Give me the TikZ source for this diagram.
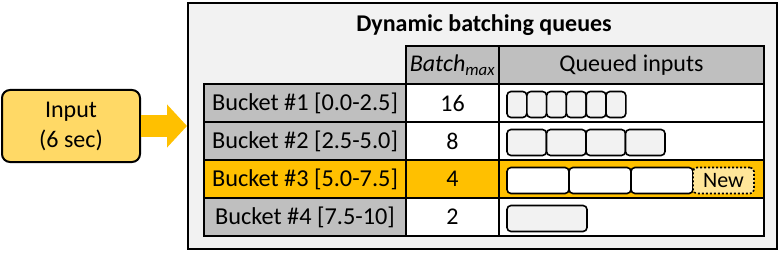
\documentclass[tikz,border=0pt]{standalone}
\usepackage{fontspec}
\setmainfont{Carlito}
\usetikzlibrary{arrows.meta, positioning}
\definecolor{cyellow}{HTML}{FFD966}
\definecolor{corange}{HTML}{FFC000}
\definecolor{cgrey}{HTML}{BFBFBF}
\definecolor{clight}{HTML}{F2F2F2}
\definecolor{cnew}{HTML}{FFE699}
\tikzset{
  every picture/.style={line width=2pt, x=1pt, y=1pt},
  panel/.style={draw=black, fill=clight, minimum width=589pt, minimum height=246pt, inner sep=0pt},
  title/.style={font=\fontsize{24}{28}\selectfont\bfseries},
  cell/.style={draw=black, fill=#1, minimum height=38pt, inner sep=0pt, font=\fontsize{24}{28}\selectfont},
  cell/.default=white,
  label/.style={cell=#1, minimum width=202pt, font=\fontsize{24.3}{28}\selectfont},
  item/.style={draw=black, fill=#1, rounded corners=4pt, minimum height=26pt, inner sep=0pt, outer sep=0pt, line width=1.6pt},
  item/.default=clight,
  newbox/.style={draw=black, fill=cnew, rounded corners=4pt, minimum height=26pt, minimum width=61pt, inner sep=0pt, outer sep=0pt, line width=1.6pt, dash pattern=on 2pt off 2pt, font=\fontsize{22}{24}\selectfont},
  inbox/.style={draw=black, fill=cyellow, rounded corners=8pt, minimum width=138pt, minimum height=72pt, align=center, font=\fontsize{24}{30}\selectfont},
  bigarrow/.style={draw=corange, line width=22pt, -{Triangle[length=20pt, width=42pt]}},
}
\begin{document}
\begin{tikzpicture}
  \useasboundingbox (0,0) rectangle (781,252);
  % panel with the queues
  \node[panel] (queues) at (482.5,126) {};
  \node[title] (title) at (484,227) {Dynamic batching queues};
  % header row
  \node[cell=cgrey, minimum width=93pt] (H2) at (452.5,187) {\textit{Batch}\textsubscript{\textit{max}}};
  \node[cell=cgrey, minimum width=265pt] (H3) at (631.5,187) {Queued inputs};
  % one row per bucket: label / max batch / label fill / row fill
  \foreach \lab/\bmax/\cl/\cr [count=\r] in {{Bucket \#1 [0.0-2.5]}/16/cgrey/white, {Bucket \#2 [2.5-5.0]}/8/cgrey/white, {Bucket \#3 [5.0-7.5]}/4/corange/corange, {Bucket \#4 [7.5-10]}/2/cgrey/white} {
    \node[label=\cl] (B\r) at (305,187-38*\r) {\lab};
    \node[cell=\cr, minimum width=93pt] (M\r) at (452.5,187-38*\r) {\bmax};
    \node[cell=\cr, minimum width=265pt] (Q\r) at (631.5,187-38*\r) {};
  }
  % queued inputs: count / width / fill
  \foreach \n/\w/\qf [count=\r] in {6/19.8/clight, 4/39.5/clight, 3/62/white, 1/80/clight}
    \foreach \k in {1,...,\n}
      \node[item=\qf, minimum width=\w pt] (I\r-\k) at (507+\w*\k-\w/2, 185.5-38*\r) {};
  \node[newbox, right=0pt of I3-3] (new) {New};
  % input
  \node[inbox] (input) at (71,126) {Input\\(6 sec)};
  \draw[bigarrow] (input.east) -- (queues.west);
\end{tikzpicture}
\end{document}
